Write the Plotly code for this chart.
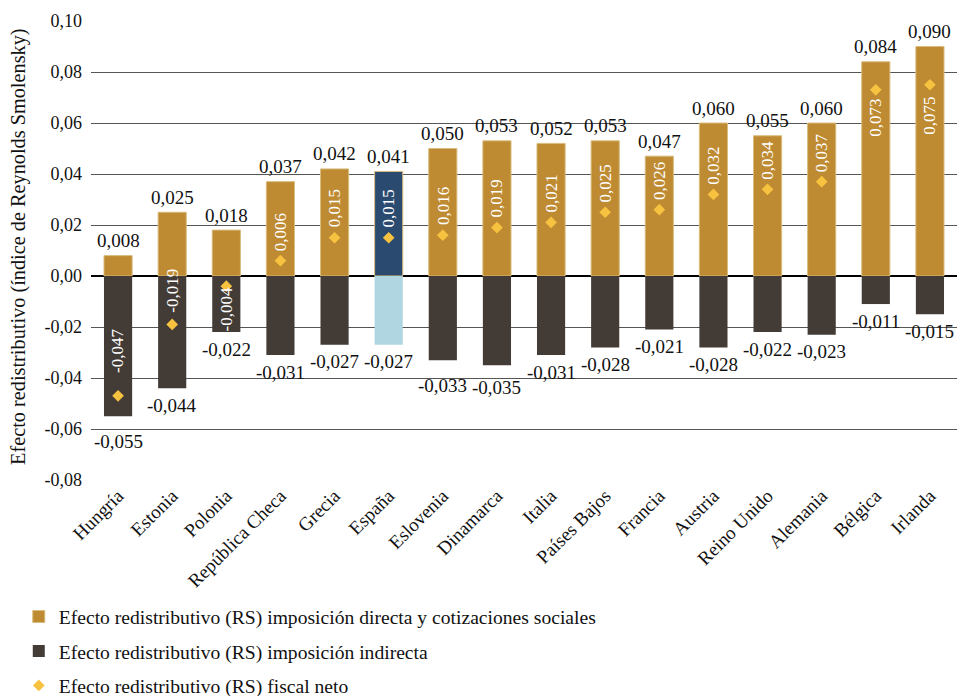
import plotly.graph_objects as go

countries = ["Hungría", "Estonia", "Polonia", "República Checa", "Grecia", "España",
             "Eslovenia", "Dinamarca", "Italia", "Países Bajos", "Francia", "Austria",
             "Reino Unido", "Alemania", "Bélgica", "Irlanda"]
directa = [0.008, 0.025, 0.018, 0.037, 0.042, 0.041, 0.050, 0.053, 0.052, 0.053,
           0.047, 0.060, 0.055, 0.060, 0.084, 0.090]
indirecta = [-0.055, -0.044, -0.022, -0.031, -0.027, -0.027, -0.033, -0.035, -0.031,
             -0.028, -0.021, -0.028, -0.022, -0.023, -0.011, -0.015]
neto = [-0.047, -0.019, -0.004, 0.006, 0.015, 0.015, 0.016, 0.019, 0.021, 0.025,
        0.026, 0.032, 0.034, 0.037, 0.073, 0.075]
y_ticks = [0.10, 0.08, 0.06, 0.04, 0.02, 0.00, -0.02, -0.04, -0.06, -0.08]
y_tick_labels = ["0,10", "0,08", "0,06", "0,04", "0,02", "0,00", "-0,02", "-0,04", "-0,06", "-0,08"]

FONT = "Liberation Serif"
GOLD = "#BE8A32"
DARK = "#433B36"
BLUE_DARK = "#2B4A70"
BLUE_LIGHT = "#B0D6E1"
DIAMOND = "#F8C241"
TXT = "#111111"


def fmt(v):
    return f"{v:.3f}".replace(".", ",")


pos_colors = [BLUE_DARK if c == "España" else GOLD for c in countries]
neg_colors = [BLUE_LIGHT if c == "España" else DARK for c in countries]

fig = go.Figure()
fig.add_trace(go.Bar(
    x=countries, y=directa, name="Efecto redistributivo (RS) imposición directa y cotizaciones sociales",
    marker=dict(color=pos_colors, line=dict(color="#D9BC7E", width=1)),
    width=0.52, legendgroup="a"))
fig.add_trace(go.Bar(
    x=countries, y=indirecta, name="Efecto redistributivo (RS) imposición indirecta",
    marker=dict(color=neg_colors, line=dict(width=0)),
    width=0.52, legendgroup="b"))
fig.add_trace(go.Scatter(
    x=countries, y=neto, mode="markers", name="Efecto redistributivo (RS) fiscal neto",
    marker=dict(symbol="diamond", color=DIAMOND, size=9), legendgroup="c"))

annotations = []
for c, v in zip(countries, directa):
    annotations.append(dict(x=c, y=v, text=fmt(v), showarrow=False, yanchor="middle",
                            yshift=15, font=dict(family=FONT, size=19, color=TXT)))
neg_shift = {"Hungría": -25, "Eslovenia": -25, "Dinamarca": -22}
for c, v in zip(countries, indirecta):
    annotations.append(dict(x=c, y=v, text=fmt(v), showarrow=False, yanchor="middle",
                            yshift=neg_shift.get(c, -17), font=dict(family=FONT, size=19, color=TXT)))

net_shift = {"Hungría": 45, "Estonia": 34, "Polonia": -23, "Bélgica": -28, "Irlanda": -31}
for c, v in zip(countries, neto):
    annotations.append(dict(x=c, y=v, text=fmt(v), showarrow=False, textangle=-90,
                            yanchor="middle", xanchor="center", yshift=net_shift.get(c, 29),
                            font=dict(family=FONT, size=17, color="white")))

annotations.append(dict(xref="paper", yref="paper", x=-0.083, y=0.508, xanchor="center",
                        yanchor="middle", textangle=-90, showarrow=False,
                        text="Efecto redistributivo (índice de Reynolds Smolensky)",
                        font=dict(family=FONT, size=20.3, color=TXT)))

fig.update_layout(
    width=957, height=696,
    margin=dict(l=91, r=0, t=21, b=216, autoexpand=False),
    paper_bgcolor="white", plot_bgcolor="white",
    barmode="relative",
    font=dict(family=FONT, size=18, color=TXT),
    annotations=annotations,
    legend=dict(x=-0.0834, y=-0.2555, xanchor="left", yanchor="top", orientation="v",
                font=dict(family=FONT, size=19.6, color=TXT), tracegroupgap=6,
                itemwidth=30),
    showlegend=True,
)
fig.update_xaxes(range=[-0.5, len(countries) - 0.5], tickangle=-45,
                 tickfont=dict(family=FONT, size=19, color=TXT),
                 showgrid=False, showline=False, ticks="", automargin=False)
fig.update_yaxes(range=[-0.08, 0.10], tickvals=y_ticks, ticktext=y_tick_labels,
                 tickfont=dict(family=FONT, size=18, color=TXT),
                 showgrid=True, gridcolor="#555555", gridwidth=1.2,
                 zeroline=True, zerolinecolor="#000000", zerolinewidth=2,
                 ticks="", ticklabelstandoff=8, automargin=False)

fig.write_html("out.html", config={"displayModeBar": False},
               post_script="document.body.style.margin='0';document.body.style.overflow='hidden';")
